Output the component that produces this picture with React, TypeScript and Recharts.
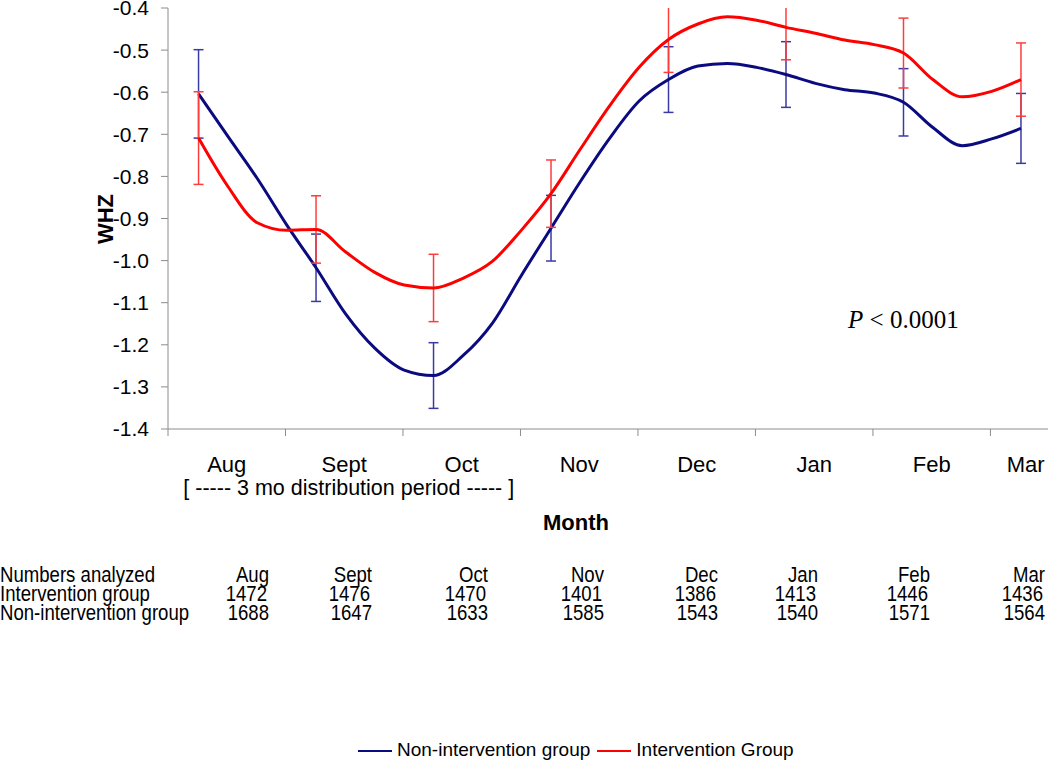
import React from 'react';
import { LineChart, Line, XAxis, YAxis, ErrorBar, Legend } from 'recharts';

// ---- data ----
const months = ['Aug', 'Sept', 'Oct', 'Nov', 'Dec', 'Jan', 'Feb', 'Mar'];

// x position in month units (0 = start of Aug category), roughly weekly samples
const weekPos = [
  0.26, 0.51, 0.76, 1.01, 1.26, 1.51, 1.76, 2.01, 2.26, 2.51, 2.76, 3.01, 3.26, 3.51, 3.76,
  4.01, 4.26, 4.51, 4.76, 5.01, 5.26, 5.51, 5.76, 6.01, 6.26, 6.51, 6.76, 7.01, 7.26,
];

const nonIntervention = [
  -0.604, -0.705, -0.805, -0.915, -1.017, -1.126, -1.208, -1.26, -1.273, -1.226, -1.149, -1.034,
  -0.923, -0.812, -0.709, -0.621, -0.57, -0.538, -0.532, -0.541, -0.558, -0.579, -0.594, -0.602,
  -0.624, -0.684, -0.727, -0.711, -0.686,
];

const intervention = [
  -0.709, -0.824, -0.91, -0.928, -0.926, -0.979, -1.028, -1.058, -1.065, -1.042, -1.002, -0.927,
  -0.841, -0.735, -0.632, -0.541, -0.475, -0.438, -0.421, -0.429, -0.446, -0.46, -0.476, -0.487,
  -0.507, -0.57, -0.611, -0.598, -0.57,
];

// monthly error bar half-widths
const nonInterventionErr = [0.105, 0.08, 0.078, 0.078, 0.078, 0.078, 0.08, 0.083];
const interventionErr = [0.11, 0.08, 0.08, 0.08, 0.078, 0.077, 0.083, 0.087];

const yTicks = [-1.4, -1.3, -1.2, -1.1, -1.0, -0.9, -0.8, -0.7, -0.6, -0.5, -0.4];

const interventionN = [1472, 1476, 1470, 1401, 1386, 1413, 1446, 1436];
const nonInterventionN = [1688, 1647, 1633, 1585, 1543, 1540, 1571, 1564];

const seriesOrder = ['non', 'int'];

// ---- derived chart rows ----
const rows = weekPos.map((m, i) => ({
  m,
  non: nonIntervention[i],
  int: intervention[i],
  nonErr: i % 4 === 0 ? nonInterventionErr[i / 4] : undefined,
  intErr: i % 4 === 0 ? interventionErr[i / 4] : undefined,
}));

const xTicks = [
  ...months.map((_, i) => i),
  ...months.map((_, i) => (i === months.length - 1 ? i + 0.3 : i + 0.5)),
].sort((a, b) => a - b);

const FONT = '"Liberation Sans", Arial, Helvetica, sans-serif';
const AXIS = '#8c8c8c';
const NAVY = '#0b0b80';
const RED = '#ff0000';

const MonthTick = (props: any) => {
  const { x, y, payload } = props;
  const v = payload.value as number;
  if (Number.isInteger(v)) {
    return <line x1={x} y1={y} x2={x} y2={y + 7} stroke={AXIS} strokeWidth={1} />;
  }
  return (
    <text x={x} y={y + 42.5} textAnchor="middle" fontSize={22} fill="#000">
      {months[Math.floor(v)]}
    </text>
  );
};

const monthLabel = () => (
  <text x={576} y={529.5} textAnchor="middle" fontSize={22} fontWeight="bold" fill="#000">
    Month
  </text>
);

const whzLabel = () => (
  <text
    x={113}
    y={219}
    transform="rotate(-90, 113, 219)"
    textAnchor="middle"
    fontSize={22}
    fontWeight="bold"
    fill="#000"
  >
    WHZ
  </text>
);

const renderLegend = (props: any) => {
  const payload = [...(props.payload || [])].sort(
    (a: any, b: any) => seriesOrder.indexOf(a.dataKey) - seriesOrder.indexOf(b.dataKey)
  );
  return (
    <div style={{ display: 'flex', alignItems: 'center', fontSize: 19, lineHeight: '22px', whiteSpace: 'nowrap', fontFamily: FONT, color: '#000' }}>
      {payload.map((p: any, i: number) => (
        <span key={i} style={{ display: 'flex', alignItems: 'center', marginRight: 7 }}>
          <span
            style={{
              display: 'inline-block',
              width: 34,
              height: 0,
              borderTop: `2.5px solid ${p.color}`,
              marginRight: 5,
              marginTop: 2,
            }}
          />
          <span>{p.value}</span>
        </span>
      ))}
    </div>
  );
};

const SX = 0.865;
const TABLE_FS = 21.5;
const tableColRight = [269, 372, 488, 604, 718, 818, 930, 1045];
const rowBase = [582.5, 601.5, 620.5];

export default function App() {
  return (
    <div style={{ position: 'absolute', left: 0, top: 0, width: 1050, height: 762, background: '#fff', fontFamily: FONT }}>
      <svg width={0} height={0} style={{ position: 'absolute' }}>
        <defs>
          <clipPath id="plotAreaClip" clipPathUnits="userSpaceOnUse">
            <rect x={168} y={8} width={880} height={421} />
          </clipPath>
        </defs>
      </svg>
      <LineChart width={1050} height={762} data={rows} margin={{ top: 8, right: 2, bottom: 232, left: 0 }}>
        <XAxis
          dataKey="m"
          type="number"
          domain={[0, 7.49]}
          ticks={xTicks}
          interval={0}
          tickSize={0}
          tickMargin={0}
          tickLine={false}
          axisLine={{ stroke: AXIS, strokeWidth: 1 }}
          height={101}
          tick={MonthTick}
          label={monthLabel}
        />
        <YAxis
          type="number"
          domain={[-1.4, -0.4]}
          ticks={yTicks}
          interval={0}
          allowDataOverflow
          width={168}
          tickSize={7}
          tickMargin={12}
          tickLine={{ stroke: AXIS, strokeWidth: 1 }}
          axisLine={{ stroke: AXIS, strokeWidth: 1 }}
          tick={{ fill: '#000', fontSize: 21 }}
          tickFormatter={(v: number) => v.toFixed(1)}
          label={whzLabel}
        />
        <Line
          name="Non-intervention group"
          dataKey="non"
          type="monotone"
          stroke={NAVY}
          strokeWidth={3}
          dot={false}
          activeDot={false}
          isAnimationActive={false}
        >
          <ErrorBar
            dataKey="nonErr"
            direction="y"
            width={5}
            stroke="#3a3aa6"
            strokeWidth={1.5}
            clipPath="url(#plotAreaClip)"
            isAnimationActive={false}
          />
        </Line>
        <Line
          name="Intervention Group"
          dataKey="int"
          type="monotone"
          stroke={RED}
          strokeWidth={3}
          dot={false}
          activeDot={false}
          isAnimationActive={false}
        >
          <ErrorBar
            dataKey="intErr"
            direction="y"
            width={5}
            stroke="#ff3c3c"
            strokeWidth={1.5}
            clipPath="url(#plotAreaClip)"
            isAnimationActive={false}
          />
        </Line>
        <Legend
          layout="horizontal"
          align="center"
          verticalAlign="middle"
          itemSorter={null as any}
          wrapperStyle={{ position: 'absolute', left: 358, top: 739, width: 520 }}
          content={renderLegend}
        />
      </LineChart>

      <svg width={1050} height={762} style={{ position: 'absolute', left: 0, top: 0, pointerEvents: 'none' }}>
        <text x={183.3} y={495} fontSize={21.5} fill="#000" fontFamily={FONT}>
          [ ----- 3 mo distribution period ----- ]
        </text>
        <text x={848} y={328.3} fontSize={25} fill="#000" fontFamily='"Liberation Serif", "Times New Roman", serif'>
          <tspan fontStyle="italic">P</tspan>
          {' < 0.0001'}
        </text>
        <g transform={`scale(${SX} 1)`} fontFamily={FONT} fontSize={TABLE_FS} fill="#000">
          <text x={0} y={rowBase[0]}>Numbers analyzed</text>
          <text x={0} y={rowBase[1]}>Intervention group</text>
          <text x={0} y={rowBase[2]}>Non-intervention group</text>
          {months.map((mo, i) => (
            <text key={'h' + i} x={tableColRight[i] / SX} y={rowBase[0]} textAnchor="end">
              {mo}
            </text>
          ))}
          {interventionN.map((n, i) => (
            <text key={'i' + i} x={(tableColRight[i] - 2) / SX} y={rowBase[1]} textAnchor="end">
              {n}
            </text>
          ))}
          {nonInterventionN.map((n, i) => (
            <text key={'n' + i} x={tableColRight[i] / SX} y={rowBase[2]} textAnchor="end">
              {n}
            </text>
          ))}
        </g>
      </svg>
    </div>
  );
}
